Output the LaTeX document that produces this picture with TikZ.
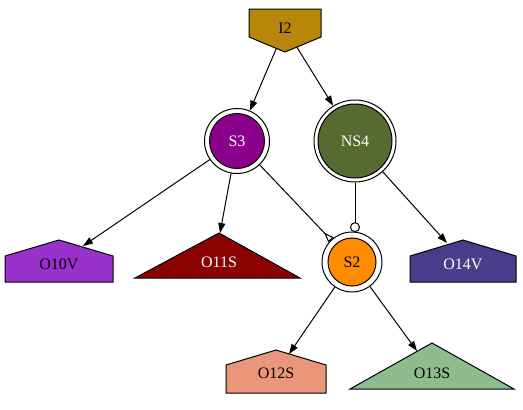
\documentclass[tikz,border=0pt]{standalone}
\usepackage{fontspec}
\setmainfont{Liberation Serif}
\usetikzlibrary{arrows.meta}
\definecolor{cI2}{HTML}{B8860B}
\definecolor{cS3}{HTML}{8B008B}
\definecolor{cNS4}{HTML}{556B2F}
\definecolor{cS2}{HTML}{FF8C00}
\definecolor{cO10}{HTML}{9932CC}
\definecolor{cO11}{HTML}{8B0000}
\definecolor{cO14}{HTML}{483D8B}
\definecolor{cO12}{HTML}{E9967A}
\definecolor{cO13}{HTML}{8FBC8F}
\tikzset{
  lbl/.style={font=\fontsize{16}{18}\selectfont, inner sep=0pt},
  outer/.style={circle, draw, line width=1pt, fill=white, inner sep=0pt},
  inner/.style={circle, draw, line width=1pt, inner sep=0pt, font=\fontsize{16}{18}\selectfont},
  shp/.style={draw, line width=1pt, line join=miter},
  edge/.style={draw, line width=1pt, -{Triangle[length=10pt,width=7pt]}},
  invedge/.style={draw, line width=1pt, -{Triangle[reversed,length=10pt,width=7pt,fill=white,line width=1pt]}},
  dotedge/.style={draw, line width=1pt, -{Circle[length=10pt,width=10pt,fill=white,line width=1pt]}},
}
\begin{document}
\begin{tikzpicture}[x=1pt,y=-1pt]
\useasboundingbox (0,0) rectangle (523,410);
% circle nodes
\node[outer, minimum size=65pt] (S3) at (237,141) {};
\node[inner, minimum size=55pt, fill=cS3, text=white] (S3i) at (237,141) {S3};
\node[outer, minimum size=82pt] (NS4) at (355,141) {};
\node[inner, minimum size=74pt, fill=cNS4, text=white] (NS4i) at (355,141) {NS4};
\node[outer, minimum size=60pt] (S2) at (352,262) {};
\node[inner, minimum size=48pt, fill=cS2] (S2i) at (352,262) {S2};
% edge targets
\coordinate (I2c) at (285,28);
\coordinate (tS2top) at (355,232.2);
\coordinate (tO10V) at (83,246);
\coordinate (tO11S) at (220,233);
\coordinate (tO14V) at (447,243);
\coordinate (tO12S) at (289,354);
\coordinate (tO13S) at (417,351);
% edges
\draw[edge] (I2c) -- (S3);
\draw[edge] (I2c) -- (NS4);
\draw[edge] (S3) -- (tO10V);
\draw[edge] (S3) -- (tO11S);
\draw[invedge] (S3) -- (S2);
\draw[dotedge] (NS4.south) -- (tS2top);
\draw[edge] (NS4) -- (tO14V);
\draw[edge] (S2) -- (tO12S);
\draw[edge] (S2) -- (tO13S);
% polygon shapes
\draw[shp, fill=cI2] (249,9) -- (321,9) -- (321,37) -- (285,52) -- (249,37) -- cycle;
\node[lbl] (I2) at (285,28) {I2};
\draw[shp, fill=cO10] (5,282) -- (5,256) -- (59,240) -- (113,256) -- (113,282) -- cycle;
\node[lbl] (O10V) at (59,264) {O10V};
\draw[shp, fill=cO11] (135,278) -- (219,233) -- (300,278) -- cycle;
\node[lbl, text=white] (O11S) at (219,262) {O11S};
\draw[shp, fill=cO14] (410,282) -- (410,256) -- (463,240) -- (516,256) -- (516,282) -- cycle;
\node[lbl, text=white] (O14V) at (463,264) {O14V};
\draw[shp, fill=cO12] (226,393) -- (226,365) -- (276,350) -- (326,365) -- (326,393) -- cycle;
\node[lbl] (O12S) at (276,373) {O12S};
\draw[shp, fill=cO13] (350,389) -- (432,343) -- (514,389) -- cycle;
\node[lbl] (O13S) at (432,373) {O13S};
\end{tikzpicture}
\end{document}
